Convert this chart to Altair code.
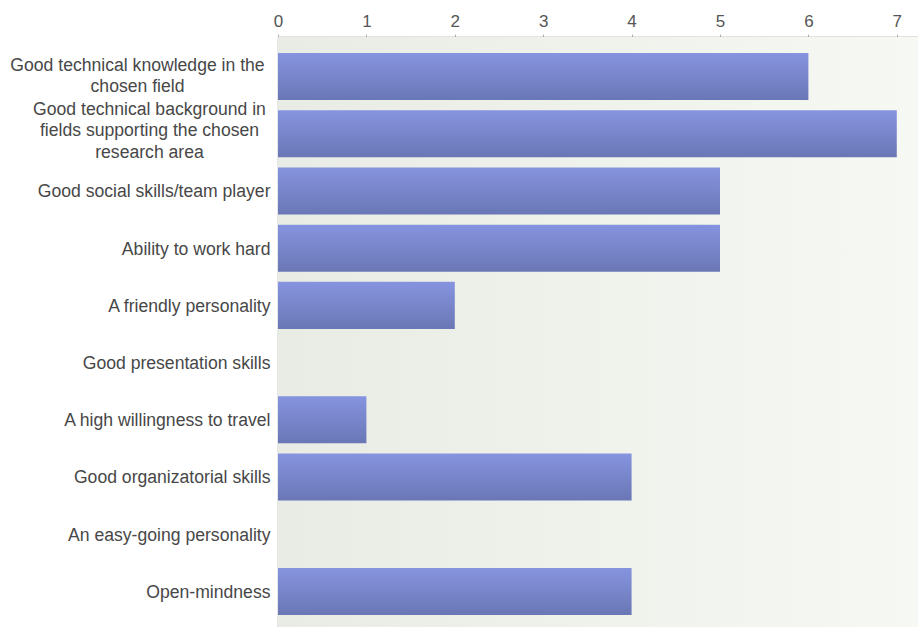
import altair as alt
import pandas as pd

categories = [
    "Good technical knowledge in the\nchosen field",
    "Good technical background in\nfields supporting the chosen\nresearch area",
    "Good social skills/team player",
    "Ability to work hard",
    "A friendly personality",
    "Good presentation skills",
    "A high willingness to travel",
    "Good organizatorial skills",
    "An easy-going personality",
    "Open-mindness",
]
counts = [6, 7, 5, 5, 2, 0, 1, 4, 0, 4]
x_ticks = [0, 1, 2, 3, 4, 5, 6, 7]

df = pd.DataFrame({"item": categories, "count": counts})

W, H = 640, 590

bar_gradient = alt.LinearGradient(
    gradient="linear",
    x1=0, y1=0, x2=0, y2=1,
    stops=[
        alt.GradientStop(color="#8694e0", offset=0),
        alt.GradientStop(color="#6a77b5", offset=1),
    ],
)

bg_gradient = alt.LinearGradient(
    gradient="linear",
    x1=0, y1=0, x2=1, y2=0,
    stops=[
        alt.GradientStop(color="#e9ece4", offset=0),
        alt.GradientStop(color="#f6f8f3", offset=1),
    ],
)

background = (
    alt.Chart(alt.Data(values=[{}]))
    .mark_rect(color=bg_gradient)
    .encode(
        x=alt.value(0), x2=alt.value(W),
        y=alt.value(0), y2=alt.value(H),
    )
)

bars = (
    alt.Chart(df)
    .mark_bar(color=bar_gradient)
    .encode(
        x=alt.X(
            "count:Q",
            scale=alt.Scale(domain=[0, 7.24], nice=False, zero=True),
            axis=alt.Axis(
                orient="top",
                values=x_ticks,
                title=None,
                format="d",
                grid=True,
                gridColor="#dcddd6",
                gridWidth=1,
                domainColor="#8a8a8a",
                domainWidth=1.5,
                ticks=True,
                tickColor="#b0b0b0",
                tickSize=3,
                labelFlush=False,
                labelFont="Liberation Sans",
                labelFontSize=17,
                labelColor="#555555",
                labelPadding=4,
            ),
        ),
        y=alt.Y(
            "item:N",
            sort=categories,
            scale=alt.Scale(paddingInner=0.178, paddingOuter=0.246, align=0.57),
            axis=alt.Axis(
                title=None,
                grid=False,
                ticks=False,
                domainColor="#9a9a9a",
                domainWidth=1.5,
                labelFont="Liberation Sans",
                labelFontSize=17.6,
                labelColor="#474747",
                labelLimit=300,
                labelLineHeight=21.5,
                labelExpr="split(datum.label, '\\n')",
                labelAlign={
                    "condition": {
                        "test": "indexof(datum.value, 'Good technical') >= 0",
                        "value": "center",
                    },
                    "value": "right",
                },
                labelPadding={
                    "condition": [
                        {"test": "indexof(datum.value, 'knowledge') >= 0", "value": 141},
                        {"test": "indexof(datum.value, 'background') >= 0", "value": 129},
                    ],
                    "value": 8,
                },
                labelOffset={
                    "condition": [
                        {"test": "indexof(datum.value, 'knowledge') >= 0", "value": -11},
                        {"test": "indexof(datum.value, 'background') >= 0", "value": -24},
                    ],
                    "value": 1.5,
                },
            ),
        ),
    )
)

chart = (
    alt.layer(background, bars)
    .properties(
        width=W,
        height=H,
        autosize=alt.AutoSizeParams(type="none"),
        padding={"left": 278, "top": 37, "right": 0, "bottom": 0},
        background="#ffffff",
    )
    .configure_view(stroke=None)
)

chart.save("out.html", embed_options={"renderer": "svg", "actions": False})
